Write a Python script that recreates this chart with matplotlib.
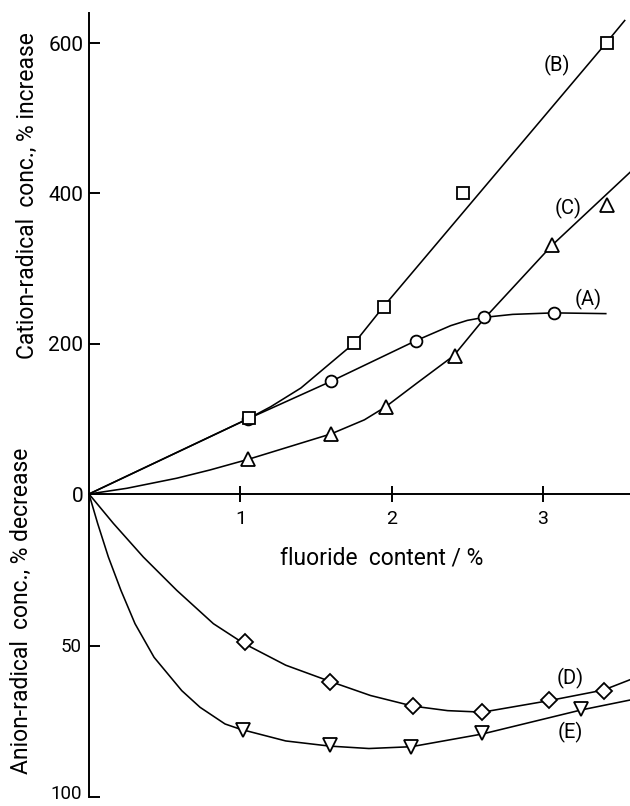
import matplotlib
matplotlib.use("Agg")
import matplotlib.pyplot as plt
from matplotlib.transforms import ScaledTranslation

plt.rcParams['font.family'] = ['Roboto', 'DejaVu Sans']

# ---- measured points (fluoride content, %) ----
fluoride_A = [1.05, 1.60, 2.16, 2.61, 3.07]
cation_A = [100, 150, 204, 235, 241]

fluoride_B = [1.06, 1.75, 1.95, 2.47, 3.42]
cation_B = [101, 201, 249, 400, 600]

fluoride_C = [1.05, 1.60, 1.96, 2.42, 3.06, 3.42]
cation_C = [46, 80, 116, 184, 331, 385]

fluoride_D = [1.03, 1.59, 2.14, 2.60, 3.04, 3.40]
anion_D = [49, 62, 70, 72, 68, 65]

fluoride_E = [1.02, 1.59, 2.13, 2.60, 3.25]
anion_E = [78, 83, 83.5, 79, 71]

# ---- hand-drawn curves ----
curve_A_x = [0, 1.05, 1.60, 2.16, 2.39, 2.50, 2.61, 2.80, 3.07, 3.415]
curve_A_y = [0, 100, 150, 204, 224, 231, 235, 239, 241, 240]

curve_B_x = [0, 1.05, 1.20, 1.40, 1.754, 1.945, 3.417, 3.54]
curve_B_y = [0, 100, 116, 141, 201, 249, 600, 630]

curve_C_x = [0, 0.25, 0.58, 0.80, 1.05, 1.60, 1.82, 1.96, 2.17, 2.41, 2.61, 3.06, 3.575]
curve_C_y = [0, 7.6, 21, 32, 46, 80, 98.7, 116, 148, 184, 233, 331, 428]

curve_D_x = [0, 0.161, 0.359, 0.580, 0.822, 0.976, 1.03, 1.30, 1.59, 1.86, 2.14, 2.37, 2.60, 3.04, 3.40, 3.575]
curve_D_y = [0, 9.7, 20.8, 31.8, 42.8, 47.8, 49.5, 56.5, 61.8, 66.5, 70, 71.5, 72, 68.2, 64.7, 61.3]

curve_E_x = [0, 0.057, 0.128, 0.211, 0.304, 0.430, 0.613, 0.734, 0.899, 0.998, 1.30, 1.59, 1.85, 2.13, 2.60, 3.25, 3.575]
curve_E_y = [0, 9.7, 20.8, 31.8, 42.8, 53.9, 64.9, 70.4, 75.9, 77.6, 81.5, 83.2, 84, 83.4, 79.2, 71.3, 68]

x_ticks = [1, 2, 3]
top_ticks = [0, 200, 400, 600]
bottom_ticks = [50, 100]

fig = plt.figure(figsize=(6.30, 8.06), dpi=100)
W, H = 630, 806
left = 89 / W
ax_top = fig.add_axes([left, (H - 494) / H, 1 - left, (494 - 13) / H])
ax_bot = fig.add_axes([left, (H - 797) / H, 1 - left, (797 - 494) / H], sharex=ax_top)

lw = 1.15
mk = dict(markerfacecolor='white', markeredgecolor='black', markeredgewidth=1.3,
          linestyle='none', zorder=3)

ax_top.plot(curve_A_x, curve_A_y, color='black', lw=lw)
ax_top.plot(curve_B_x, curve_B_y, color='black', lw=lw)
ax_top.plot(curve_C_x, curve_C_y, color='black', lw=lw)
ax_top.plot(fluoride_A, cation_A, marker='o', markersize=8.5, **mk)
ax_top.plot(fluoride_B, cation_B, marker='s', markersize=8.5, **mk)
ax_top.plot(fluoride_C, cation_C, marker='^', markersize=9.5, **mk)

ax_bot.plot(curve_D_x, curve_D_y, color='black', lw=lw)
ax_bot.plot(curve_E_x, curve_E_y, color='black', lw=lw)
ax_bot.plot(fluoride_D, anion_D, marker='D', markersize=8, **mk)
ax_bot.plot(fluoride_E, anion_E, marker='v', markersize=9.5, **mk)

lab = dict(fontsize=14.5, ha='center', va='center')
ax_top.text(3.09, 570, '(B)', **lab)
ax_top.text(3.168, 380, '(C)', **lab)
ax_top.text(3.30, 259, '(A)', **lab)
ax_bot.text(3.18, 61, '(D)', **lab)
ax_bot.text(3.18, 78.7, '(E)', **lab)

ax_top.set_xlim(0, 3.575)
ax_top.set_ylim(0, 640)
ax_bot.set_ylim(100, 0)

for ax in (ax_top, ax_bot):
    ax.set_facecolor('none')
    ax.spines['right'].set_visible(False)
    ax.spines['top'].set_visible(False)
    ax.spines['left'].set_linewidth(1.4)
ax_bot.spines['bottom'].set_visible(False)
ax_top.spines['bottom'].set_linewidth(1.4)

ax_top.set_xticks(x_ticks)
ax_top.set_xticklabels([str(t) for t in x_ticks])
ax_top.tick_params(axis='x', direction='inout', length=11, width=1.4, pad=6, labelsize=14)
ax_bot.tick_params(axis='x', bottom=False, labelbottom=False)

ax_top.set_yticks(top_ticks)
ax_top.set_yticklabels([str(t) for t in top_ticks])
ax_top.tick_params(axis='y', direction='in', length=8, width=1.4, pad=4, labelsize=15)
ax_bot.set_yticks(bottom_ticks)
ax_bot.set_yticklabels([str(t) for t in bottom_ticks])
ax_bot.tick_params(axis='y', direction='in', length=8, width=1.4, pad=5, labelsize=13.5)

# nudge the bottom-most tick label up so it stays inside the figure
last = ax_bot.get_yticklabels()[-1]
last.set_transform(last.get_transform() + ScaledTranslation(0, 3.5 / 72, fig.dpi_scale_trans))

ax_top.set_xlabel('fluoride  content / %', fontsize=16.5, va='center')
ax_top.xaxis.set_label_coords(0.5416, -0.133)
ax_top.set_ylabel('Cation-radical  conc., % increase', fontsize=16.5, va='center')
ax_top.yaxis.set_label_coords(-0.1146, 0.6195)
ax_bot.set_ylabel('Anion-radical  conc., % decrease', fontsize=16.5, va='center')
ax_bot.yaxis.set_label_coords(-0.1257, 0.614)

fig.savefig('out.png', dpi=100)
